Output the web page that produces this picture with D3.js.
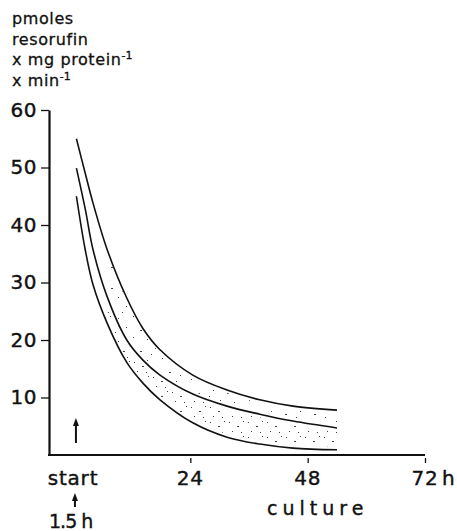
<!DOCTYPE html>
<html>
<head>
<meta charset="utf-8">
<script src="https://cdn.jsdelivr.net/npm/d3@7"></script>
<style>
body { margin: 0; background: #fff; }
text { font-family: "DejaVu Sans", sans-serif; fill: #111; stroke: #111; stroke-width: 0.4; }
</style>
</head>
<body>
<script>
// values (hours of culture, pmoles resorufin x mg protein-1 x min-1)
var hours = [0.7, 2.5, 4.1, 7.0, 11.0, 14.3, 17.8, 24.5, 31.5, 38.2, 45.0, 54.0];
var upperValues = [55.0, 49.0, 43.8, 35.7, 27.3, 22.0, 18.3, 13.9, 11.3, 9.6, 8.5, 7.8];
var middleValues = [49.9, 42.8, 35.7, 27.5, 20.0, 16.5, 13.9, 10.6, 8.5, 7.1, 5.9, 4.7];
var lowerValues = [45.0, 35.7, 29.6, 22.9, 16.1, 12.5, 9.6, 5.6, 3.1, 1.9, 1.2, 0.9];

var yTicks = [10, 20, 30, 40, 50, 60];
var xTicks = [24, 48, 72];
var xLabelValues = [0, 24, 48, 72];
var xLabels = ['start', '24', '48', '72'];
var titleLines = [['pmoles', ''], ['resorufin', ''], ['x mg protein', '-1'], ['x min', '-1']];

var WIDTH = 457;
var HEIGHT = 531;
var AXIS_X = 49;
var BASE_Y = 455;

var svg = d3.select('body').append('svg')
    .attr('width', WIDTH)
    .attr('height', HEIGHT);

var x = d3.scaleLinear().domain([0, 72]).range([73, 425]);
var y = d3.scaleLinear().domain([0, 60]).range([BASE_Y, 110]);

var rows = hours.map(function(h, i){
    return {h: h, up: upperValues[i], mid: middleValues[i], low: lowerValues[i]};
});

// stipple for the bands between the curves
var defs = svg.append('defs');
function addDots(id, w, h, dots){
    var p = defs.append('pattern')
        .attr('id', id)
        .attr('patternUnits', 'userSpaceOnUse')
        .attr('width', w)
        .attr('height', h);
    p.selectAll('rect').data(dots).enter()
        .append('rect')
        .attr('x', function(d){return d[0];})
        .attr('y', function(d){return d[1];})
        .attr('width', function(d){return d[2];})
        .attr('height', 1)
        .attr('fill', '#444');
}
addDots('dots-up', 29, 21, [[2,3,1],[17,1,1],[10,12,1],[24,15,2],[6,18,1]]);
addDots('dots-low', 19, 15, [[1,2,1],[9,6,2],[15,1,1],[4,11,1],[13,12,1]]);

var band = rows.filter(function(d){return d.h >= 7;});

svg.append('path')
    .datum(band)
    .attr('d', d3.area()
        .x(function(d){return x(d.h);})
        .y0(function(d){return y(d.mid) - 3;})
        .y1(function(d){return y(d.up) + 3;})
        .curve(d3.curveCatmullRom))
    .attr('fill', 'url(#dots-up)');

svg.append('path')
    .datum(band)
    .attr('d', d3.area()
        .x(function(d){return x(d.h);})
        .y0(function(d){return y(d.low) - 3;})
        .y1(function(d){return y(d.mid) + 3;})
        .curve(d3.curveCatmullRom))
    .attr('fill', 'url(#dots-low)');

// the three curves
['up', 'mid', 'low'].forEach(function(key){
    svg.append('path')
        .datum(rows)
        .attr('d', d3.line()
            .x(function(d){return x(d.h);})
            .y(function(d){return y(d[key]);})
            .curve(d3.curveCatmullRom))
        .attr('fill', 'none')
        .attr('stroke', '#111')
        .attr('stroke-width', 1.6);
});

// y axis
var yAxis = svg.append('g')
    .attr('transform', 'translate(' + AXIS_X + ',0)')
    .call(d3.axisLeft(y).tickValues(yTicks).tickSize(8).tickSizeOuter(0).tickPadding(4));
yAxis.select('.domain').attr('stroke', '#111').attr('stroke-width', 2.2);
yAxis.selectAll('.tick line').attr('stroke', '#111').attr('stroke-width', 1.3);
yAxis.selectAll('.tick text')
    .attr('font-family', '"DejaVu Sans", sans-serif')
    .attr('font-size', 20)
    .attr('letter-spacing', 0.5)
    .attr('fill', '#111');

// x axis line, starts at the y axis
svg.append('line')
    .attr('x1', AXIS_X - 1)
    .attr('x2', x(72))
    .attr('y1', BASE_Y)
    .attr('y2', BASE_Y)
    .attr('stroke', '#111')
    .attr('stroke-width', 2.2);

var xAxis = svg.append('g')
    .attr('transform', 'translate(0,' + (BASE_Y + 3) + ')')
    .call(d3.axisBottom(x).tickValues(xTicks).tickSize(5).tickFormat(''));
xAxis.select('.domain').remove();
xAxis.selectAll('.tick line').attr('stroke', '#111').attr('stroke-width', 1.3);

svg.selectAll('.x-label').data(xLabelValues).enter()
    .append('text')
    .attr('class', 'x-label')
    .attr('x', function(d){return x(d);})
    .attr('y', 485)
    .attr('text-anchor', 'middle')
    .attr('font-size', 20)
    .attr('letter-spacing', 0.8)
    .text(function(d, i){return xLabels[i];});

svg.append('text')
    .attr('x', x(72) + 17)
    .attr('y', 485)
    .attr('font-size', 20)
    .text('h');

svg.append('text')
    .attr('x', 267)
    .attr('y', 515)
    .attr('font-size', 19)
    .attr('letter-spacing', 5)
    .text('culture');

svg.append('text')
    .attr('x', 49)
    .attr('y', 528)
    .attr('font-size', 19)
    .attr('letter-spacing', -1)
    .text('1.5 h');

// arrows
function arrow(ax, top, bottom){
    svg.append('line')
        .attr('x1', ax).attr('x2', ax)
        .attr('y1', top + 5).attr('y2', bottom)
        .attr('stroke', '#111')
        .attr('stroke-width', 2);
    svg.append('path')
        .attr('d', 'M' + ax + ',' + top + 'L' + (ax - 3) + ',' + (top + 8) + 'L' + (ax + 3) + ',' + (top + 8) + 'Z')
        .attr('fill', '#111');
}
arrow(x(0.6), 418, 443);
arrow(x(0.4), 493, 507);

// y axis title
var title = svg.selectAll('.title').data(titleLines).enter()
    .append('text')
    .attr('class', 'title')
    .attr('x', 12)
    .attr('y', function(d, i){return 24 + i * 20.7;})
    .attr('font-size', 16)
    .attr('letter-spacing', 0.6)
    .style('stroke-width', 0.3);
title.append('tspan').text(function(d){return d[0];});
title.append('tspan')
    .attr('dy', -6)
    .attr('font-size', 11)
    .attr('letter-spacing', 0)
    .text(function(d){return d[1];});
</script>
</body>
</html>
